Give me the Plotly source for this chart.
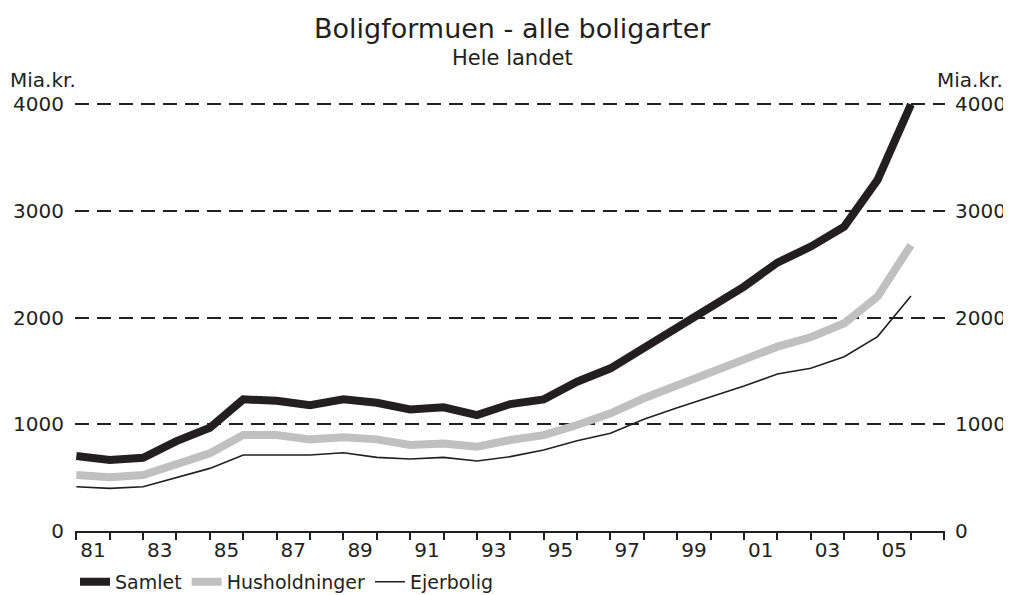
import plotly.graph_objects as go

years = list(range(1981, 2007))
samlet = [703, 665, 687, 843, 968, 1234, 1221, 1180, 1234, 1202, 1140, 1159, 1087,
          1190, 1234, 1399, 1525, 1713, 1916, 2103, 2291, 2516, 2666, 2853, 3291, 4000]
husholdninger = [525, 503, 525, 634, 728, 899, 899, 859, 878, 859, 806, 821, 790,
                 853, 899, 993, 1103, 1244, 1369, 1484, 1603, 1728, 1816, 1947, 2197, 2680]
ejerbolig = [415, 400, 415, 503, 587, 712, 712, 712, 734, 690, 675, 690, 656,
             697, 760, 846, 916, 1047, 1156, 1259, 1359, 1472, 1525, 1634, 1822, 2203]

x_label_pos = [y + 0.5 for y in range(1981, 2007, 2)]
x_label_text = ["81", "83", "85", "87", "89", "91", "93", "95", "97", "99", "01", "03", "05"]
y_ticks = [0, 1000, 2000, 3000, 4000]
y_text = ["0", "1000", "2000", "3000", "4000"]

TXT = "#231f20"
FONT = "DejaVu Sans"

fig = go.Figure()
fig.add_trace(go.Scatter(x=years, y=samlet, name="Samlet", mode="lines",
                         line=dict(color="#231f20", width=8)))
fig.add_trace(go.Scatter(x=years, y=husholdninger, name="Husholdninger", mode="lines",
                         line=dict(color="#c0c0c0", width=8)))
fig.add_trace(go.Scatter(x=years, y=ejerbolig, name="Ejerbolig", mode="lines",
                         line=dict(color="#231f20", width=1.6)))
# invisible trace for right axis
fig.add_trace(go.Scatter(x=[years[0]], y=[0], yaxis="y2", showlegend=False,
                         mode="markers", marker=dict(opacity=0), hoverinfo="skip"))

# page body has an 8px default margin: figure is sized/offset to compensate
fig.update_layout(
    width=1003, height=587,
    margin=dict(l=67, r=66, t=92, b=64, autoexpand=False),
    paper_bgcolor="white", plot_bgcolor="white",
    font=dict(family=FONT, color=TXT, size=18),
    showlegend=True,
    legend=dict(orientation="h", x=0.0, xanchor="left", y=-0.118, yanchor="middle",
                font=dict(size=19, color=TXT), tracegroupgap=0),
    xaxis=dict(range=[1980.96, 2007.02], tickmode="array", tickvals=x_label_pos,
               ticktext=x_label_text, ticks="", showgrid=False, zeroline=False,
               showline=True, linecolor=TXT, linewidth=2, automargin=False,
               tickfont=dict(size=20, color=TXT), ticklabelstandoff=0,
               minor=dict(tick0=1981, dtick=1, ticks="outside", ticklen=7,
                          tickwidth=1.5, tickcolor=TXT, showgrid=False)),
    yaxis=dict(range=[0, 4040], tickmode="array", tickvals=y_ticks, ticktext=y_text,
               showgrid=True, gridcolor=TXT, gridwidth=1.8, griddash="14px,8px",
               zeroline=False, showline=False, ticks="", automargin=False,
               tickfont=dict(size=20, color=TXT), ticklabelstandoff=10),
    yaxis2=dict(range=[0, 4040], overlaying="y", side="right", tickmode="array",
                tickvals=y_ticks, ticktext=y_text, showgrid=False, zeroline=False,
                showline=False, ticks="", automargin=False,
                tickfont=dict(size=20, color=TXT), ticklabelstandoff=9),
    annotations=[
        dict(text="Boligformuen - alle boligarter", xref="paper", yref="paper",
             x=0.503, y=1.167, xanchor="center", yanchor="middle", showarrow=False,
             font=dict(size=27, color=TXT)),
        dict(text="Hele landet", xref="paper", yref="paper",
             x=0.503, y=1.097, xanchor="center", yanchor="middle", showarrow=False,
             font=dict(size=21, color=TXT)),
        dict(text="Mia.kr.", xref="paper", yref="paper",
             x=-0.077, y=1.046, xanchor="left", yanchor="middle", showarrow=False,
             font=dict(size=20, color=TXT)),
        dict(text="Mia.kr.", xref="paper", yref="paper",
             x=1.069, y=1.046, xanchor="right", yanchor="middle", showarrow=False,
             font=dict(size=20, color=TXT)),
    ],
)

fig.write_html("out.html")
